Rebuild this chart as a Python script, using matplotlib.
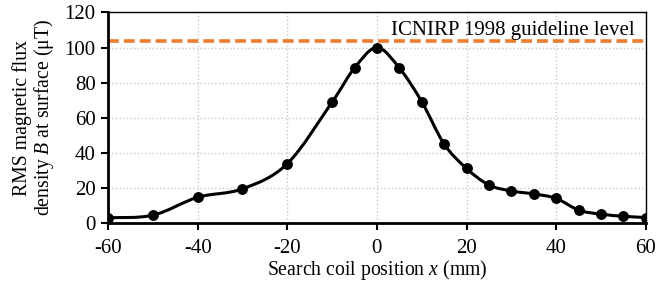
import numpy as np
import matplotlib.pyplot as plt
from matplotlib.path import Path
from matplotlib.patches import PathPatch

plt.rcParams['font.family'] = ['Liberation Serif', 'DejaVu Serif']
plt.rcParams['mathtext.fontset'] = 'custom'
plt.rcParams['mathtext.it'] = 'Liberation Serif:italic'
plt.rcParams['mathtext.rm'] = 'Liberation Serif'
plt.rcParams['axes.unicode_minus'] = False

# measured field along the search coil path
position_mm = [-60, -50, -40, -30, -20, -10, -5, 0, 5, 10, 15, 20, 25, 30, 35, 40, 45, 50, 55, 60]
flux_uT = [3.2, 4.6, 14.8, 19.6, 33.9, 69.0, 88.4, 100.0, 88.4, 69.2, 45.1, 31.2, 21.8, 18.4, 16.7, 14.2, 7.5, 5.2, 4.0, 3.3]
guideline_uT = 103.5
guideline_label = "ICNIRP 1998 guideline level"


def smooth_path(x, y, t=0.5):
    # Catmull-Rom style bezier through the points (like Excel "smoothed line")
    x = np.asarray(x, float)
    y = np.asarray(y, float)
    verts = [(x[0], y[0])]
    codes = [Path.MOVETO]
    n = len(x)
    for i in range(n - 1):
        p0 = i - 1 if i > 0 else i
        p3 = i + 2 if i + 2 < n else i + 1
        c1 = (x[i] + (x[i + 1] - x[p0]) * t / 3, y[i] + (y[i + 1] - y[p0]) * t / 3)
        c2 = (x[i + 1] - (x[p3] - x[i]) * t / 3, y[i + 1] - (y[p3] - y[i]) * t / 3)
        verts += [c1, c2, (x[i + 1], y[i + 1])]
        codes += [Path.CURVE4] * 3
    return Path(verts, codes)


fig = plt.figure(figsize=(6.57, 2.89), dpi=100)
ax = fig.add_axes([0.1644, 0.2273, 0.8186, 0.7297])

ax.add_patch(PathPatch(smooth_path(position_mm, flux_uT), fill=False, edgecolor='black', lw=2.2, zorder=3))
ax.plot(position_mm, flux_uT, 'o', color='black', ms=6.8, zorder=4)
ax.axhline(guideline_uT, color='#ED7D31', lw=2.6, ls=(0, (3, 1.4)), zorder=2)
ax.text(57.5, 107, guideline_label, ha='right', va='baseline', fontsize=15)

ax.set_xlim(-60, 60)
ax.set_ylim(0, 120)
ax.set_xticks(range(-60, 61, 20))
ax.set_yticks(range(0, 121, 20))
ax.grid(True, color='#C8C8C8', ls=':', lw=1.0)
ax.set_axisbelow(True)

for side in ['left', 'bottom']:
    ax.spines[side].set_linewidth(2.0)
for side in ['top', 'right']:
    ax.spines[side].set_linewidth(1.0)
ax.tick_params(direction='out', length=5, width=1.5, labelsize=15, pad=4)
ax.tick_params(axis='x', pad=6)

ax.set_xlabel("Search coil position $\\mathit{x}$ (mm)", fontsize=14.2, labelpad=0)
ax.set_ylabel("RMS magnetic flux\ndensity $\\mathit{B}$ at surface (\u03bcT)", fontsize=14.2, labelpad=6, linespacing=1.0)

fig.savefig("out.png", dpi=100)
